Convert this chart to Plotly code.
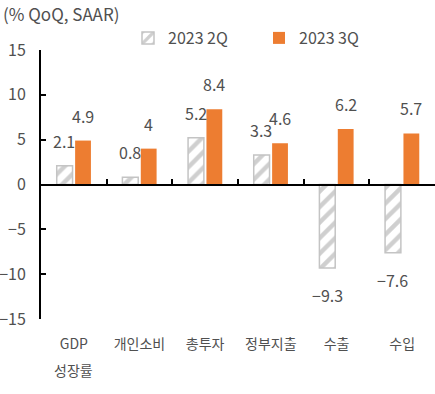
import plotly.graph_objects as go

categories = ["GDP", "개인소비", "총투자", "정부지출", "수출", "수입"]
category_sublabels = ["성장률", "", "", "", "", ""]
q2_values = [2.1, 0.8, 5.2, 3.3, -9.3, -7.6]
q3_values = [4.9, 4.0, 8.4, 4.6, 6.2, 5.7]
q2_labels = ["2.1", "0.8", "5.2", "3.3", "−9.3", "−7.6"]
q3_labels = ["4.9", "4", "8.4", "4.6", "6.2", "5.7"]
y_ticks = [15, 10, 5, 0, -5, -10, -15]
y_tick_text = ["15", "10", "5", "0", "−5", "−10", "−15"]

FONT = "Noto Sans CJK KR"
TXT = "#505050"
ORANGE = "#ED7D31"

fig = go.Figure()
fig.add_trace(go.Bar(
    name="2023 2Q", x=categories, y=q2_values,
    marker=dict(color="white", line=dict(color="#c4c4c4", width=1.5),
                pattern=dict(shape="/", fgcolor="#a0a0a0", bgcolor="white",
                             size=11, solidity=0.4)),
))
fig.add_trace(go.Bar(
    name="2023 3Q", x=categories, y=q3_values,
    marker=dict(color=ORANGE, line=dict(width=0)),
))
# dummy trace for the zero-crossing axis
fig.add_trace(go.Scatter(x=categories, y=[None] * len(categories), xaxis="x2",
                         showlegend=False, hoverinfo="skip"))

annotations = []
for c, v, t in zip(categories, q2_values, q2_labels):
    annotations.append(dict(x=c, y=v, text=t, showarrow=False, xshift=-9.5,
                            yshift=25 if v >= 0 else -27,
                            font=dict(family=FONT, size=16, color=TXT)))
for c, v, t in zip(categories, q3_values, q3_labels):
    annotations.append(dict(x=c, y=v, text=t, showarrow=False, xshift=9,
                            yshift=25 if v >= 0 else -27,
                            font=dict(family=FONT, size=16, color=TXT)))
for c, s in zip(categories, category_sublabels):
    if s:
        annotations.append(dict(x=c, y=0, yref="paper", text=s, showarrow=False,
                                yanchor="middle", yshift=-51,
                                font=dict(family=FONT, size=14, color=TXT)))

fig.update_layout(
    width=435, height=394,
    margin=dict(l=41, r=0, t=50, b=75, autoexpand=False),
    paper_bgcolor="white", plot_bgcolor="white",
    font=dict(family=FONT, size=15, color=TXT),
    barmode="group", bargap=0.44, bargroupgap=0.14,
    title=dict(text="(% QoQ, SAAR)", x=3 / 435, xanchor="left",
               y=1 - 15 / 394, yanchor="middle", xref="container", yref="container",
               font=dict(family=FONT, size=17, color=TXT)),
    legend=dict(orientation="h", x=128 / 435, xanchor="left", y=1 - 38 / 394,
                yanchor="middle", xref="container", yref="container",
                font=dict(family=FONT, size=16, color=TXT),
                entrywidth=86, bgcolor="rgba(0,0,0,0)"),
    xaxis=dict(type="category", categoryorder="array", categoryarray=categories,
               range=[-0.5, 5.5], showline=False, showgrid=False, ticks="",
               ticklabelstandoff=15,
               tickfont=dict(family=FONT, size=14, color=TXT)),
    xaxis2=dict(type="category", categoryorder="array", categoryarray=categories,
                overlaying="x", matches="x", anchor="free", position=0.5,
                showline=True, linecolor="black", linewidth=2,
                ticks="inside", tickson="boundaries", ticklen=5, tickwidth=1.5,
                tickcolor="black", showticklabels=False, showgrid=False),
    yaxis=dict(range=[-15, 15], tickvals=y_ticks, ticktext=y_tick_text,
               showline=True, linecolor="black", linewidth=2,
               ticks="inside", ticklen=5, tickwidth=1.5, tickcolor="black",
               showgrid=False, zeroline=False, ticklabelstandoff=10,
               tickfont=dict(family=FONT, size=16, color=TXT)),
    annotations=annotations,
)

fig.write_html("out.html", config={"displayModeBar": False},
               post_script="document.body.style.margin='0';")
